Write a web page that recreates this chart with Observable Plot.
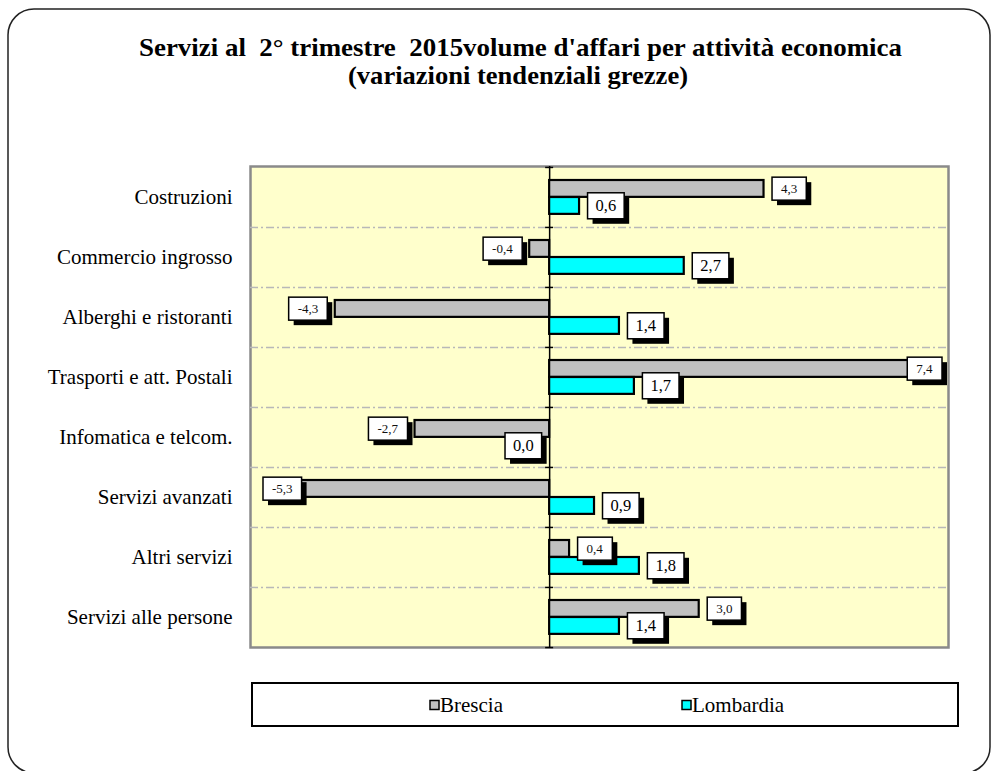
<!DOCTYPE html>
<html>
<head>
<meta charset="utf-8">
<script src="https://cdn.jsdelivr.net/npm/d3@7"></script>
<script src="https://cdn.jsdelivr.net/npm/@observablehq/plot@0.6"></script>
<style>
  html, body { margin: 0; padding: 0; background: #ffffff; }
  #wrap { position: relative; width: 991px; height: 771px; overflow: hidden; background: #fff; }
  #wrap > svg { position: absolute; left: 0; top: 0; }
  #overlay { pointer-events: none; }
</style>
</head>
<body>
<div id="wrap"></div>
<script>
// ---- data ----
const categories = [
  "Costruzioni",
  "Commercio ingrosso",
  "Alberghi e ristoranti",
  "Trasporti e att. Postali",
  "Infomatica e telcom.",
  "Servizi avanzati",
  "Altri servizi",
  "Servizi alle persone"
];
const brescia   = [4.3, -0.4, -4.3, 7.4, -2.7, -5.3, 0.4, 3.0];
const lombardia = [0.6,  2.7,  1.4, 1.7,  0.0,  0.9, 1.8, 1.4];
const seriesNames = ["Brescia", "Lombardia"];
const seriesColors = ["#C0C0C0", "#00FFFF"];
const titleLines = [
  "Servizi al  2° trimestre  2015volume d'affari per attività economica",
  "(variazioni tendenziali grezze)"
];
const xDomain = [-6, 8];

const rows = categories.map((c, i) => ({category: c, brescia: brescia[i], lombardia: lombardia[i]}));
const fmt = v => v.toFixed(1).replace(".", ",");

const W = 991, H = 771;
const mL = 250, mR = 43, mT = 166, mB = 124;
const band = (H - mT - mB) / categories.length;
const serif = "'Liberation Serif', 'Times New Roman', Times, serif";

const plot = Plot.plot({
  width: W, height: H,
  marginLeft: mL, marginRight: mR, marginTop: mT, marginBottom: mB,
  x: {domain: xDomain, axis: null},
  y: {domain: categories, padding: 0, tickSize: 0, tickPadding: 18, label: null},
  style: {fontFamily: serif, fontSize: "21px", color: "#000", background: "transparent"},
  marks: [
    Plot.frame({fill: "#FFFFCC", stroke: "#8a8a8a", strokeWidth: 2.5}),
    Plot.ruleY(categories.slice(1), {dy: -band / 2, stroke: "#b8b8b8", strokeWidth: 1.5, strokeDasharray: "8,3,2,3"}),
    Plot.ruleX([0], {stroke: "#000", strokeWidth: 1.5}),
    Plot.ruleY(categories, {x1: 0, x2: 0, insetLeft: -4, insetRight: -4, dy: -band / 2, stroke: "#000", strokeWidth: 1.5}),
    Plot.ruleY(categories.slice(-1), {x1: 0, x2: 0, insetLeft: -4, insetRight: -4, dy: band / 2, stroke: "#000", strokeWidth: 1.5}),
    Plot.barX(rows, {x1: 0, x2: "brescia", y: "category", fill: seriesColors[0], stroke: "#000", strokeWidth: 2.2, insetTop: 13, insetBottom: band - 30}),
    Plot.barX(rows, {x1: 0, x2: "lombardia", y: "category", fill: seriesColors[1], stroke: "#000", strokeWidth: 2.2, insetTop: 30, insetBottom: band - 47}),
    Plot.text(rows, {filter: d => d.brescia > 0, x: "brescia", y: "category", text: d => fmt(d.brescia),
      dx: 17, dy: -8.5, textAnchor: "start", fontSize: 13, fill: "#111"}),
    Plot.text(rows, {filter: d => d.brescia <= 0, x: "brescia", y: "category", text: d => fmt(d.brescia),
      dx: -17, dy: -8.5, textAnchor: "end", fontSize: 13, fill: "#111"}),
    Plot.text(rows, {filter: d => d.lombardia > 0, x: "lombardia", y: "category", text: d => fmt(d.lombardia),
      dx: 16, dy: 8.5, textAnchor: "start", fontSize: 16.5, fill: "#000"}),
    Plot.text(rows, {filter: d => d.lombardia <= 0, x: "lombardia", y: "category", text: d => fmt(d.lombardia),
      dx: -16, dy: 8.5, textAnchor: "end", fontSize: 16.5, fill: "#000"})
  ]
});

const wrap = document.getElementById("wrap");
wrap.appendChild(plot);

// ---- boxed labels with drop shadow ----
const NS = "http://www.w3.org/2000/svg";
const plotRight = W - mR, plotLeft = mL;
function boxText(t, padX, h) {
  const bb = t.getBBox();
  const cy = bb.y + bb.height / 2;
  const x = bb.x - padX, w = bb.width + 2 * padX, y = cy - h / 2;
  const ctm = t.getCTM();
  const rightSvg = ctm.e + (x + w + 5) * ctm.a;
  const leftSvg = ctm.e + x * ctm.a;
  let shift = 0;
  if (rightSvg > plotRight - 1) shift = rightSvg - (plotRight - 1);
  else if (leftSvg < plotLeft + 13) shift = leftSvg - (plotLeft + 13);
  const tr = t.getAttribute("transform") || "";
  const g = document.createElementNS(NS, "g");
  g.setAttribute("transform", `translate(${-shift},0) ${tr}`);
  t.removeAttribute("transform");
  t.parentNode.insertBefore(g, t);
  const sh = document.createElementNS(NS, "rect");
  sh.setAttribute("x", x + 5); sh.setAttribute("y", y + 5);
  sh.setAttribute("width", w); sh.setAttribute("height", h);
  sh.setAttribute("fill", "#000");
  const bx = document.createElementNS(NS, "rect");
  bx.setAttribute("x", x); bx.setAttribute("y", y);
  bx.setAttribute("width", w); bx.setAttribute("height", h);
  bx.setAttribute("fill", "#fff"); bx.setAttribute("stroke", "#000"); bx.setAttribute("stroke-width", 1.5);
  g.appendChild(sh); g.appendChild(bx); g.appendChild(t);
}
const textGroups = Array.from(plot.querySelectorAll('g[aria-label="text"]'));
textGroups.forEach((grp, gi) => {
  const isB = gi < 2;
  Array.from(grp.querySelectorAll("text")).forEach(t => boxText(t, isB ? 9 : 8, isB ? 23 : 26));
});

// ---- overlay: outer frame, title, legend ----
const ov = d3.select(wrap).append("svg").attr("id", "overlay").attr("width", W).attr("height", H);
ov.append("rect").attr("x", 8).attr("y", 9).attr("width", 982).attr("height", 764).attr("rx", 26)
  .attr("fill", "none").attr("stroke", "#222").attr("stroke-width", 1.5);

const titleSpec = [{x: 139, y: 56, len: 763}, {x: 348, y: 84, len: 340}];
titleLines.forEach((s, i) => {
  ov.append("text").attr("x", titleSpec[i].x).attr("y", titleSpec[i].y)
    .attr("textLength", titleSpec[i].len).attr("lengthAdjust", "spacingAndGlyphs")
    .style("white-space", "pre")
    .attr("font-family", serif).attr("font-weight", "bold").attr("font-size", 26)
    .attr("fill", "#000").text(s);
});

ov.append("rect").attr("x", 252).attr("y", 683).attr("width", 706).attr("height", 43)
  .attr("fill", "#fff").attr("stroke", "#000").attr("stroke-width", 2);
const legX = [430, 682];
seriesNames.forEach((name, i) => {
  ov.append("rect").attr("x", legX[i]).attr("y", 700.5).attr("width", 9).attr("height", 9)
    .attr("fill", seriesColors[i]).attr("stroke", "#000").attr("stroke-width", 1.5);
  ov.append("text").attr("x", legX[i] + 10).attr("y", 712)
    .attr("font-family", serif).attr("font-size", 21).attr("fill", "#000").text(name);
});
</script>
</body>
</html>
